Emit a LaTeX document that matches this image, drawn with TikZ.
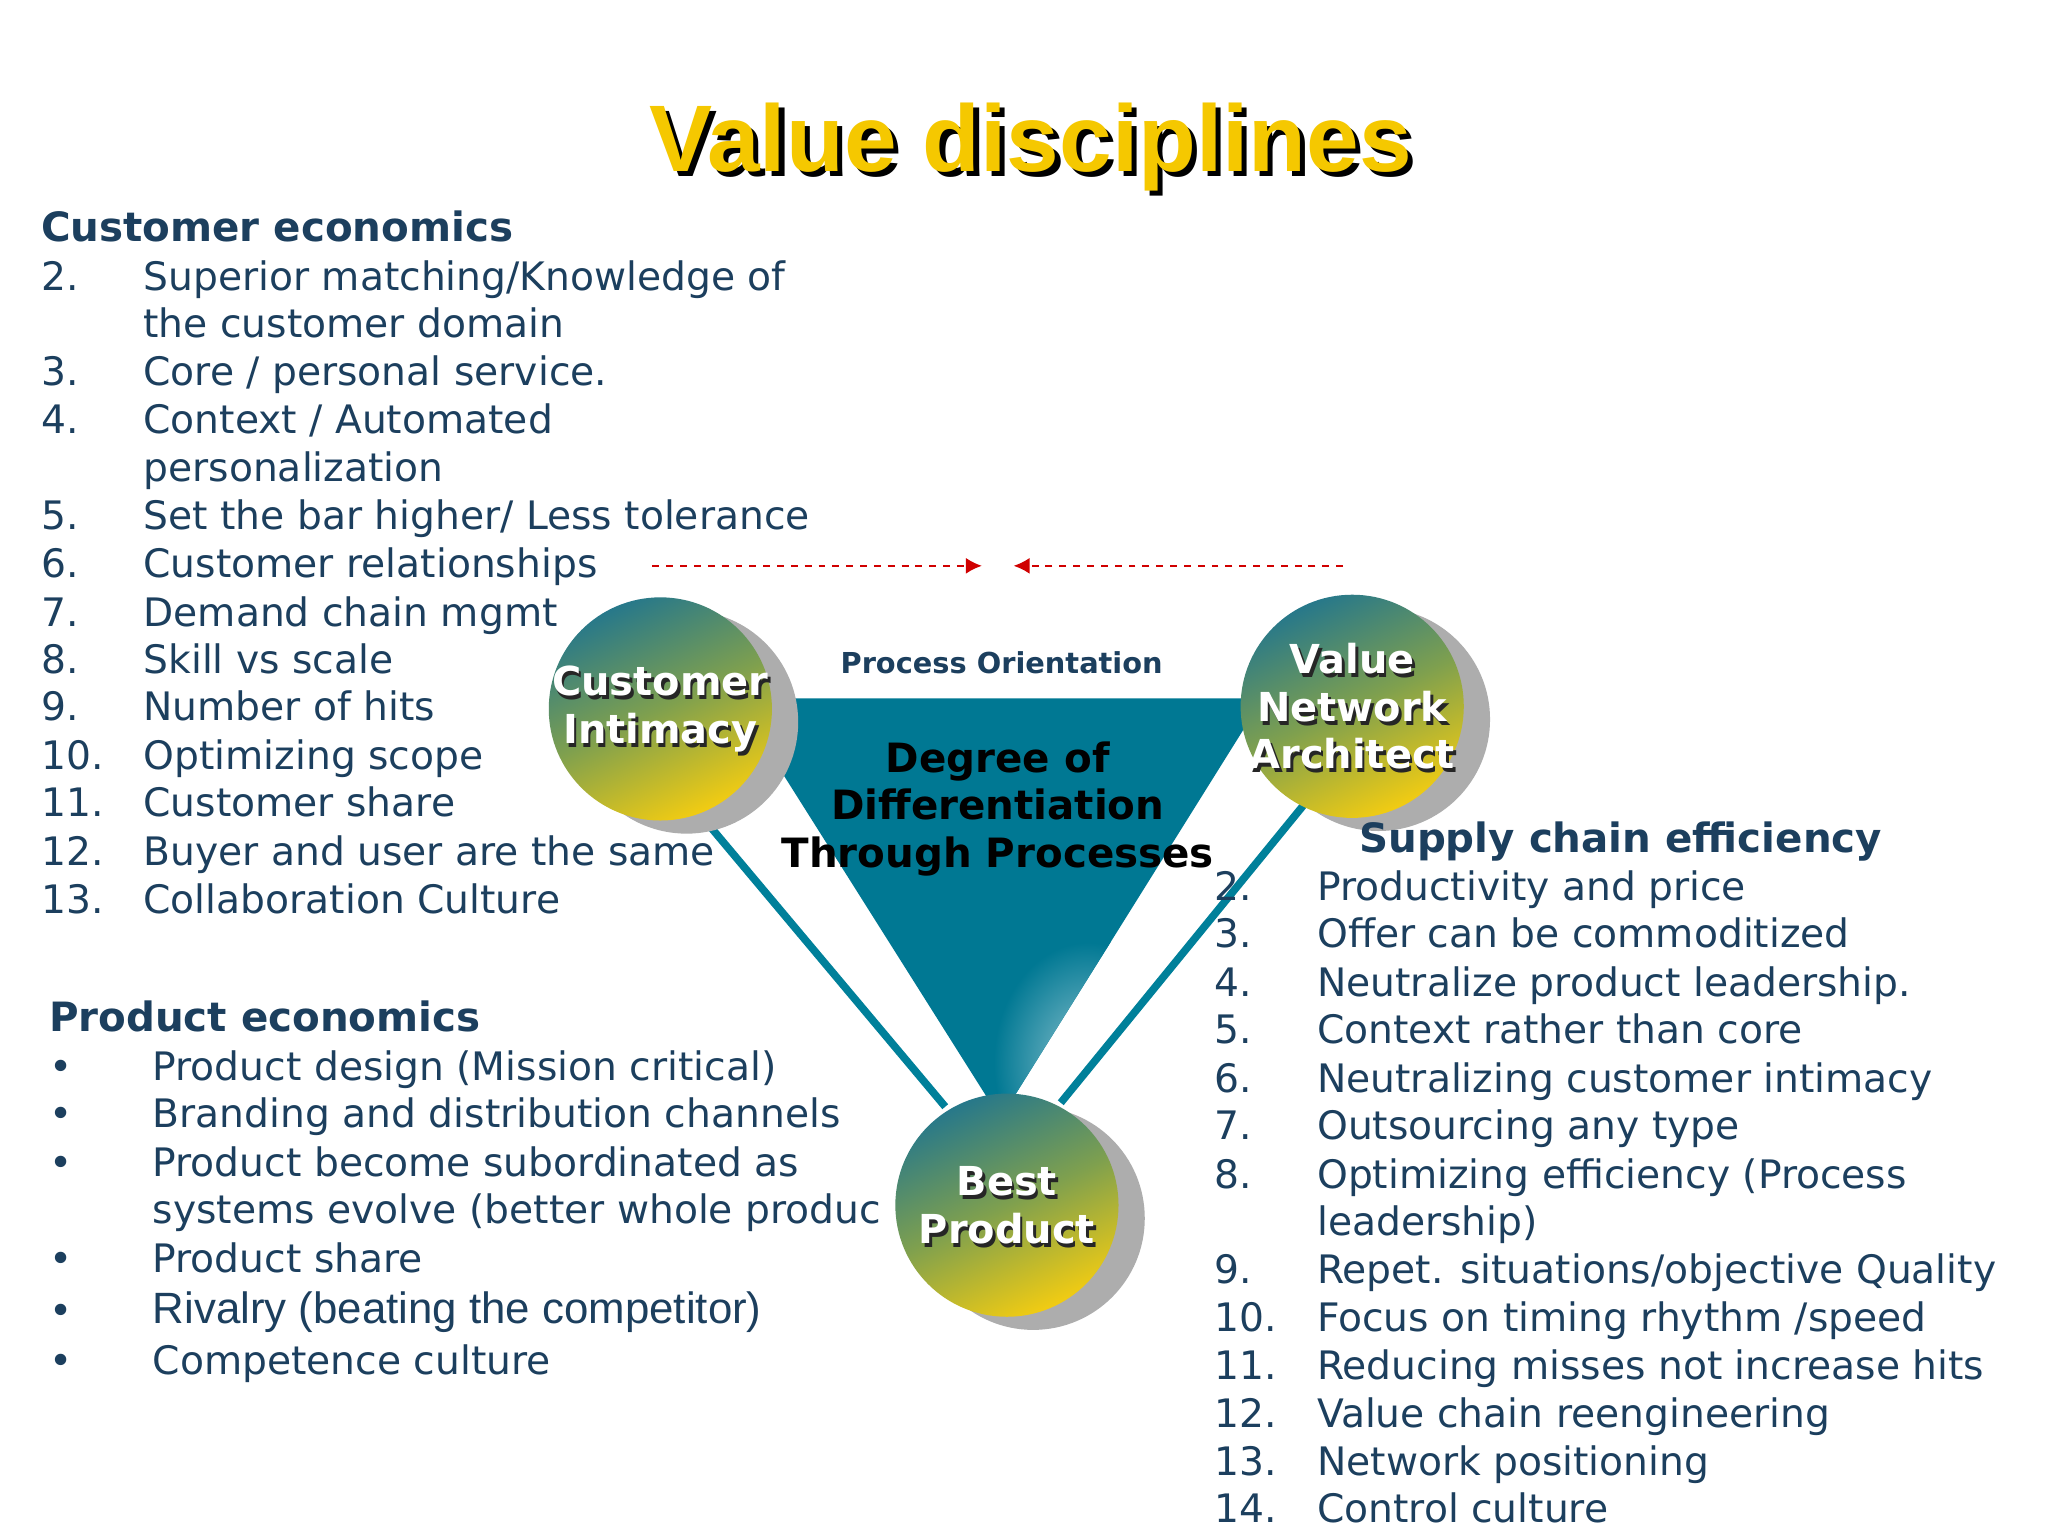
\documentclass[tikz,border=0pt]{standalone}
\usepackage{fontspec}
\setmainfont{DejaVu Sans}
\newfontfamily\titlefont{Liberation Sans}
\newfontfamily\arialf{Liberation Sans}
\usetikzlibrary{arrows.meta,shadings}
\definecolor{navy}{HTML}{1C3F5E}
\definecolor{teal1}{HTML}{007893}
\definecolor{tealline}{HTML}{00809A}
\definecolor{cteal}{HTML}{27788A}
\definecolor{cgreen}{HTML}{7FA04E}
\definecolor{cyel}{HTML}{F2CC12}
\definecolor{ttlyel}{HTML}{F5C800}
\definecolor{dred}{HTML}{D00000}
\tikzset{
  txt/.style={anchor=base west,inner sep=0pt,text=navy,font=\fontsize{17}{20}\selectfont},
  head/.style={anchor=base west,inner sep=0pt,text=navy,font=\fontsize{17.5}{20}\selectfont\bfseries},
  ctext/.style={align=center,inner sep=0pt,text=white,font=\fontsize{17.3}{20.5}\selectfont\bfseries},
  cshad/.style={align=center,inner sep=0pt,text=black!85,font=\fontsize{17.3}{20.5}\selectfont\bfseries},
  conn/.style={draw=tealline,line width=3.3pt},
  dasharr/.style={draw=dred,dashed,line width=1pt,-{Latex[length=7pt,width=7pt]}}
}
\newcommand{\disc}[4]{%
  \fill[black!32] (#1+20,#2+10) circle (85);
  \shade[top color=cteal,bottom color=cyel,middle color=cgreen,shading angle=25] (#1,#2) circle (85);
  \node[cshad] (#3s) at (#1+2,#2+3) {#4};
  \node[ctext] (#3) at (#1,#2) {#4};
}
\begin{document}
\begin{tikzpicture}[x=0.02cm,y=-0.02cm]
\useasboundingbox (0,0) rectangle (1560,1170);
\fill[white] (0,0) rectangle (1560,1170);
% title
\node[inner sep=0pt,text=black,font=\titlefont\fontsize{41}{44}\selectfont\bfseries] (ttls) at (789,116) {Value disciplines};
\node[inner sep=0pt,text=ttlyel,font=\titlefont\fontsize{41}{44}\selectfont\bfseries] (ttl) at (785,112) {Value disciplines};
% triangle
\coordinate (tl) at (560,532);
\coordinate (tr) at (962,532);
\coordinate (tb) at (762,852);
\fill[teal1] (tl) -- (tr) -- (tb) -- cycle;
\begin{scope}
\clip (tl) -- (tr) -- (tb) -- cycle;
\clip (757,718) rectangle (860,850);
\shade[inner color=teal1!45!white,outer color=teal1] (757,718) rectangle (900,900);
\end{scope}
\node[inner sep=0pt,text=navy,font=\fontsize{12.5}{14}\selectfont\bfseries] (po) at (763,505) {Process Orientation};
\node[align=center,inner sep=0pt,text=black,font=\fontsize{17.5}{20.6}\selectfont\bfseries] (deg) at (760,616) {Degree of\\Differentiation\\Through Processes};
% connectors
\coordinate (c1a) at (522,607); \coordinate (c1b) at (720,843);
\coordinate (c2a) at (994,612); \coordinate (c2b) at (808,840);
\draw[conn] (c1a) -- (c1b);
\draw[conn] (c2a) -- (c2b);
% dashed arrows
\coordinate (d1a) at (497,431); \coordinate (d1b) at (748,431);
\coordinate (d2a) at (1023,431); \coordinate (d2b) at (772,431);
\draw[dasharr] (d1a) -- (d1b);
\draw[dasharr] (d2a) -- (d2b);
% discs
\disc{503}{540}{ci}{Customer\\Intimacy}
\disc{1030}{538}{vna}{Value\\Network\\Architect}
\disc{767}{918}{bp}{Best\\Product}
% left list
\node[head] (h1) at (31,184) {Customer economics};
\foreach \n/\t/\y [count=\k] in {{2.}/{Superior matching/Knowledge of}/211, {}/{the customer domain}/247, {3.}/{Core / personal service.}/284, {4.}/{Context / Automated}/320, {}/{personalization}/357, {5.}/{Set the bar higher/ Less tolerance}/393, {6.}/{Customer relationships}/430, {7.}/{Demand chain mgmt}/467, {8.}/{Skill vs scale}/503, {9.}/{Number of hits}/539, {10.}/{Optimizing scope}/576, {11.}/{Customer share}/612, {12.}/{Buyer and user are the same}/649, {13.}/{Collaboration Culture}/686}{
  \node[txt] (ln\k) at (31,\y+10) {\n};
  \node[txt] (lt\k) at (109,\y+10) {\t};
}
% product economics
\node[head] (h2) at (37,786) {Product economics};
\foreach \t/\y [count=\k] in {{Product design (Mission critical)}/813, {Branding and distribution channels}/849, {Product become subordinated as}/886, {Competence culture}/1037, {Product share}/959}{
  \node[txt] (pt\k) at (116,\y+10) {\t};
}
\node[txt] (pt6) at (116,932) {systems evolve (better whole produc};
\node[txt,font=\arialf\fontsize{19}{21}\selectfont] (pt7) at (116,1008) {Rivalry (beating the competitor)};
\foreach \y [count=\k] in {813,849,886,959,999,1037}{
  \node[txt] (pb\k) at (37,\y+10) {•};
}
% right list
\node[head] (h3) at (1035,649) {Supply chain efficiency};
\foreach \n/\t/\y [count=\k] in {{2.}/{Productivity and price}/676, {3.}/{Offer can be commoditized}/712, {4.}/{Neutralize product leadership.}/749, {5.}/{Context rather than core}/785, {6.}/{Neutralizing customer intimacy}/822, {7.}/{Outsourcing any type}/858, {8.}/{Optimizing efficiency (Process}/895, {}/{leadership)}/931, {9.}/{Repet. situations/objective Quality}/968, {10.}/{Focus on timing rhythm /speed}/1004, {11.}/{Reducing misses not increase hits}/1041, {12.}/{Value chain reengineering}/1077, {13.}/{Network positioning}/1114, {14.}/{Control culture}/1150}{
  \node[txt] (rn\k) at (925,\y+10) {\n};
  \node[txt] (rt\k) at (1003,\y+10) {\t};
}
\end{tikzpicture}
\end{document}
